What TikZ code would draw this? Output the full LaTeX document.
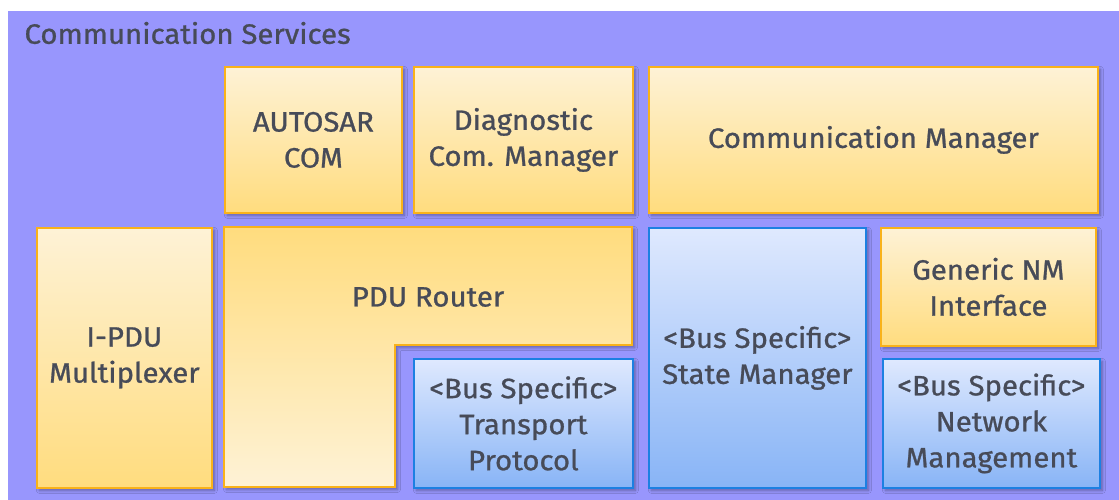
\documentclass[tikz,border=0pt]{standalone}
\usepackage{fontspec}
\setmainfont{Fira Sans}[FakeStretch=1.05, BoldFont={Fira Sans}, BoldFeatures={FakeBold=0.9}]
\usetikzlibrary{shadows.blur}

\definecolor{panel}{HTML}{9896FD}
\definecolor{ink}{HTML}{474B58}
\definecolor{otop}{HTML}{FEF2D6}
\definecolor{obot}{HTML}{FFDC7E}
\definecolor{oline}{HTML}{F9B21A}
\definecolor{btop}{HTML}{DFE9FE}
\definecolor{bbot}{HTML}{88B4F6}
\definecolor{bline}{HTML}{1C80E2}

\tikzset{
  soft/.style={blur shadow={shadow xshift=2.5pt, shadow yshift=-2.5pt,
      shadow blur radius=3pt, shadow blur steps=6, shadow opacity=35}},
  label/.style={text=ink, align=center,
      font=\fontsize{28}{36}\selectfont\bfseries},
  modbox/.style={label, rectangle, anchor=north west, inner sep=0pt,
      line width=1.8pt, soft},
  obox/.style={modbox, draw=oline, top color=otop, bottom color=obot},
  bbox/.style={modbox, draw=bline, top color=btop, bottom color=bbot},
}

\begin{document}
\begin{tikzpicture}[x=1pt, y=-1pt]
  \useasboundingbox (0,0) rectangle (1119,500);
  \fill[white] (0,0) rectangle (1119,500);
  \fill[panel] (8,11) rectangle (1119,500);

  \node[text=ink, anchor=west, font=\fontsize{28}{34}\selectfont\bfseries]
    (title) at (21,33) {Communication Services};

  % upper row
  \node[obox, minimum width=177pt, minimum height=146pt]
    (com) at (224,66) {AUTOSAR\\COM};
  \node[obox, minimum width=219pt, minimum height=146pt]
    (dcm) at (413,66) {Diagnostic\\Com. Manager};
  \node[obox, minimum width=449pt, minimum height=146pt]
    (comm) at (648,66) {Communication Manager};

  % lower row
  \node[obox, minimum width=175pt, minimum height=260pt]
    (ipdum) at (36,227) {I-PDU\\Multiplexer};

  % PDU Router (L-shaped)
  \path[draw=oline, line width=1.8pt, top color=obot, bottom color=otop, soft]
    (224,227) -- (632,227) -- (632,345) -- (395,345) -- (395,487)
    -- (224,487) -- cycle;
  \node[label] (pdur) at (428,297) {PDU Router};

  \node[bbox, minimum width=219pt, minimum height=129pt]
    (tp) at (413,358) {<Bus Specific>\\Transport\\Protocol};
  \node[bbox, minimum width=217pt, minimum height=260pt]
    (sm) at (648,227) {<Bus Specific>\\State Manager};
  \node[obox, minimum width=215pt, minimum height=118pt]
    (nm) at (880,227) {Generic NM\\Interface};
  \node[bbox, minimum width=217pt, minimum height=129pt]
    (busnm) at (882,358) {<Bus Specific>\\Network\\Management};
\end{tikzpicture}
\end{document}
